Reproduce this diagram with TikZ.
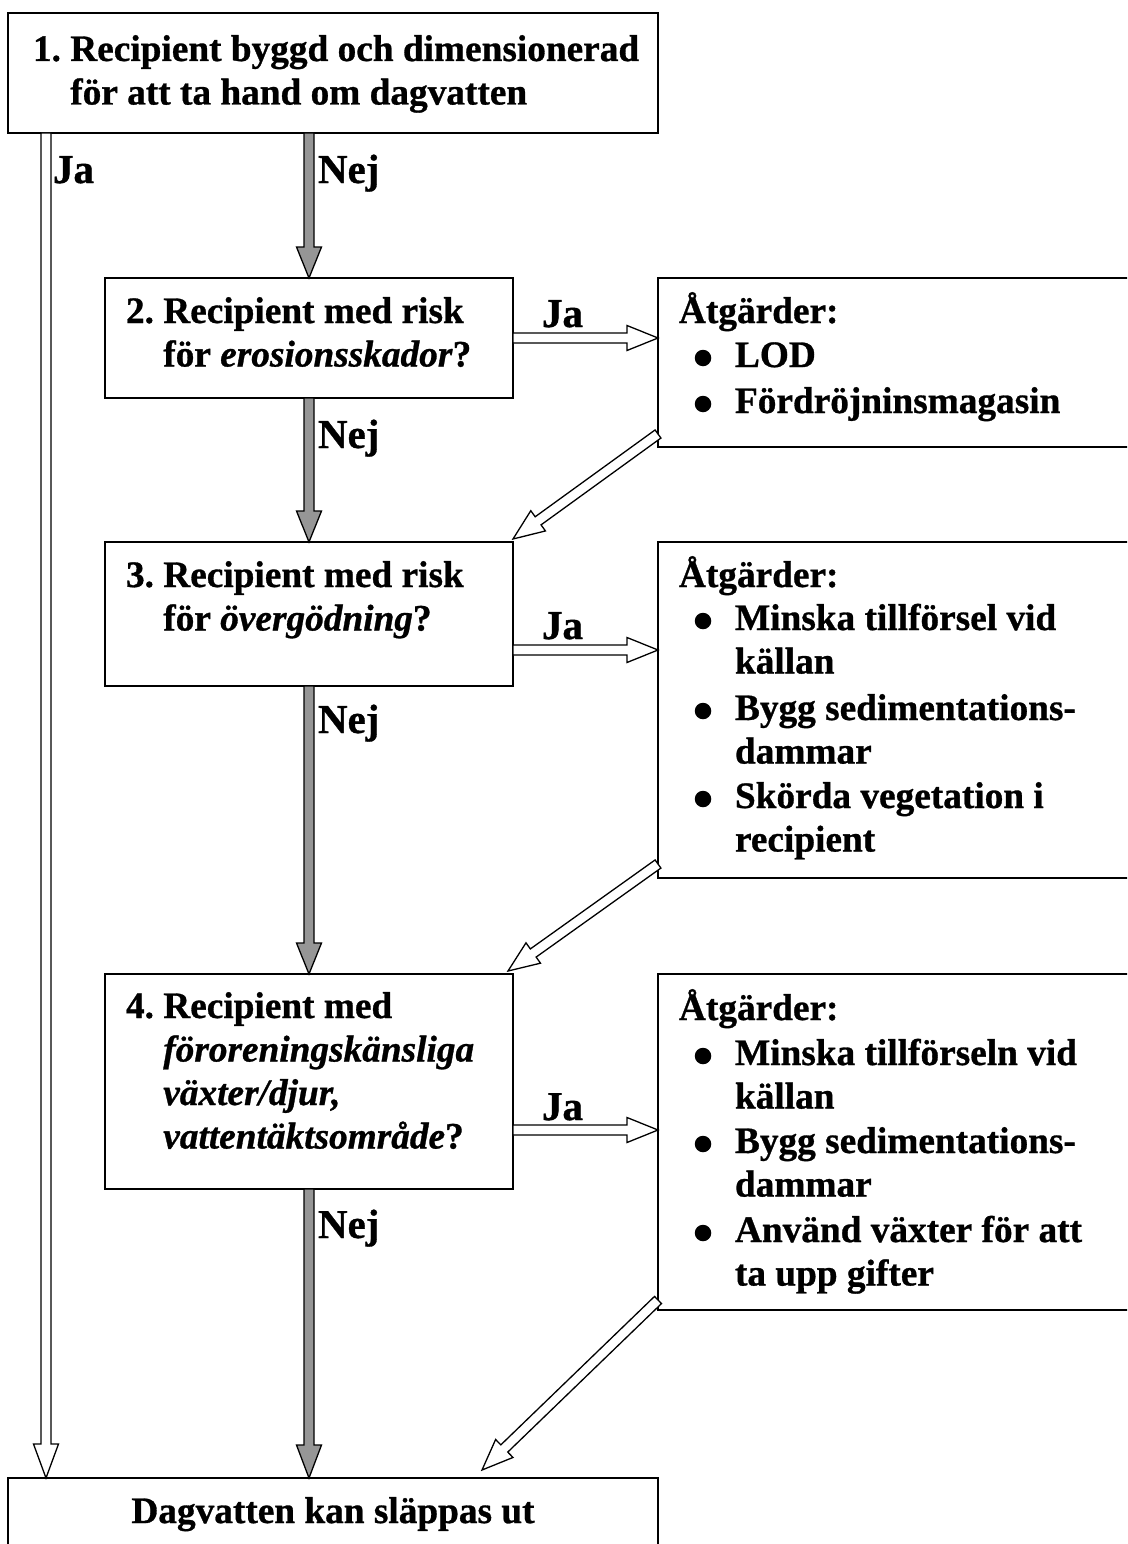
\documentclass[tikz,border=0pt]{standalone}
\usepackage{fontspec}
\setmainfont{Liberation Serif}[BoldFeatures={FakeBold=0.8},BoldItalicFeatures={FakeBold=0.8}]
\usetikzlibrary{calc}
\definecolor{arrgray}{RGB}{150,150,150}
\newcommand{\bigfont}{\fontsize{37.3pt}{43.5pt}\selectfont\bfseries}
\newcommand{\labfont}{\fontsize{41pt}{45pt}\selectfont\bfseries}
% #1 style, #2 start coordinate, #3 end coordinate, #4 head length
\newcommand{\blockarrow}[4]{%
  \coordinate (#2-#3-n) at ($(#3)!#4!(#2)$);
  \draw[#1] ($(#2)!5pt!90:(#3)$) -- ($(#2-#3-n)!5pt!90:(#3)$) -- ($(#2-#3-n)!12.5pt!90:(#3)$) -- (#3)
    -- ($(#2-#3-n)!12.5pt!-90:(#3)$) -- ($(#2-#3-n)!5pt!-90:(#3)$) -- ($(#2)!5pt!-90:(#3)$) -- cycle;
}
\begin{document}
\begin{tikzpicture}[x=1pt,y=-1pt,
  box/.style={draw, line width=1.8pt, inner sep=0pt, outer sep=0pt, anchor=north west},
  txt/.style={anchor=base west, inner sep=0pt, outer sep=0pt, font=\bigfont},
  lab/.style={anchor=base west, inner sep=0pt, outer sep=0pt, font=\labfont},
  bul/.style={circle, fill=black, inner sep=0pt, outer sep=0pt, minimum size=16.5pt},
  grayarrow/.style={draw=black, fill=arrgray, line width=1.3pt, line join=miter},
  hollowarrow/.style={draw=black, fill=white, line width=1.3pt, line join=miter}]
\useasboundingbox (0,0) rectangle (1127,1544);
\clip (0,0) rectangle (1127,1544);

% boxes
\node[box, minimum width=650pt, minimum height=120pt] (b1) at (8,13) {};
\node[box, minimum width=408pt, minimum height=120pt] (b2) at (105,278) {};
\node[box, minimum width=408pt, minimum height=144pt] (b3) at (105,542) {};
\node[box, minimum width=408pt, minimum height=215pt] (b4) at (105,974) {};
\node[box, minimum width=500pt, minimum height=169pt] (a1) at (658,278) {};
\node[box, minimum width=500pt, minimum height=336pt] (a2) at (658,542) {};
\node[box, minimum width=500pt, minimum height=336pt] (a3) at (658,974) {};
\node[box, minimum width=650pt, minimum height=100pt] (bot) at (8,1478) {};

% texts in the left boxes
\node[txt] (t1) at (33,61) {\parbox[t]{640pt}{1.~Recipient byggd och dimensionerad\\\phantom{1.~}för att ta hand om dagvatten}};
\node[txt] (t2) at (126,323) {\parbox[t]{400pt}{2.~Recipient med risk\\\phantom{2.~}för \textit{erosionsskador}?}};
\node[txt] (t3) at (126,587) {\parbox[t]{400pt}{3.~Recipient med risk\\\phantom{3.~}för \textit{övergödning}?}};
\node[txt] (t4) at (126,1018) {\parbox[t]{400pt}{4.~Recipient med\\\phantom{4.~}\textit{föroreningskänsliga}\\\phantom{4.~}\textit{växter/djur,}\\\phantom{4.~}\textit{vattentäktsområde}?}};
\node[anchor=base, inner sep=0pt, font=\bigfont] (tb) at (333,1523) {Dagvatten kan släppas ut};

% action box 1
\node[txt] (a1h) at (679,323) {Åtgärder:};
\node[bul] (a1b1) at (703,358) {};
\node[txt] (a1i1) at (735,367) {LOD};
\node[bul] (a1b2) at (703,404) {};
\node[txt] (a1i2) at (735,413) {Fördröjninsmagasin};

% action box 2
\node[txt] (a2h) at (679,587) {Åtgärder:};
\node[bul] (a2b1) at (703,621) {};
\node[txt] (a2i1) at (735,630) {\parbox[t]{380pt}{Minska tillförsel vid\\källan}};
\node[bul] (a2b2) at (703,711) {};
\node[txt] (a2i2) at (735,720) {\parbox[t]{380pt}{Bygg sedimentations-\\dammar}};
\node[bul] (a2b3) at (703,799) {};
\node[txt] (a2i3) at (735,808) {\parbox[t]{380pt}{Skörda vegetation i\\recipient}};

% action box 3
\node[txt] (a3h) at (679,1020) {Åtgärder:};
\node[bul] (a3b1) at (703,1056) {};
\node[txt] (a3i1) at (735,1065) {\parbox[t]{380pt}{Minska tillförseln vid\\källan}};
\node[bul] (a3b2) at (703,1144) {};
\node[txt] (a3i2) at (735,1153) {\parbox[t]{380pt}{Bygg sedimentations-\\dammar}};
\node[bul] (a3b3) at (703,1233) {};
\node[txt] (a3i3) at (735,1242) {\parbox[t]{380pt}{Använd växter för att\\ta upp gifter}};

% connector end points
\coordinate (g1s) at (b1.south -| b2.north);
\coordinate (g1e) at (b2.north);
\coordinate (g2s) at (b2.south);
\coordinate (g2e) at (b3.north);
\coordinate (g3s) at (b3.south);
\coordinate (g3e) at (b4.north);
\coordinate (g4s) at (b4.south);
\coordinate (g4e) at (b4.south |- bot.north);
\coordinate (jas) at ([xshift=38pt]b1.south west);
\coordinate (jae) at (jas |- bot.north);
\coordinate (h1s) at (b2.east);
\coordinate (h1e) at (a1.west |- h1s);
\coordinate (h2s) at (b3.east |- 0,650);
\coordinate (h2e) at (a2.west |- h2s);
\coordinate (h3s) at (b4.east |- 0,1130);
\coordinate (h3e) at (a3.west |- h3s);
\coordinate (d1s) at (a1.west |- 0,434);
\coordinate (d1e) at ($(b3.north east)+(0,-3)$);
\coordinate (d2s) at (a2.west |- 0,864);
\coordinate (d2e) at ($(b4.north east)+(-5,-3)$);
\coordinate (d3s) at (a3.west |- 0,1300);
\coordinate (d3e) at ($(bot.north)+(149,-8)$);

% connectors
\blockarrow{grayarrow}{g1s}{g1e}{31pt}
\blockarrow{grayarrow}{g2s}{g2e}{31pt}
\blockarrow{grayarrow}{g3s}{g3e}{31pt}
\blockarrow{grayarrow}{g4s}{g4e}{33pt}
\blockarrow{hollowarrow}{jas}{jae}{34pt}
\blockarrow{hollowarrow}{h1s}{h1e}{31pt}
\blockarrow{hollowarrow}{h2s}{h2e}{31pt}
\blockarrow{hollowarrow}{h3s}{h3e}{31pt}
\blockarrow{hollowarrow}{d1s}{d1e}{31pt}
\blockarrow{hollowarrow}{d2s}{d2e}{31pt}
\blockarrow{hollowarrow}{d3s}{d3e}{31pt}

% labels
\node[lab] (lja0) at (53,183) {Ja};
\node[lab] (ln1) at (318,183) {Nej};
\node[lab] (ln2) at (318,448) {Nej};
\node[lab] (ln3) at (318,733) {Nej};
\node[lab] (ln4) at (318,1238) {Nej};
\node[lab] (lja1) at (542,327) {Ja};
\node[lab] (lja2) at (542,639) {Ja};
\node[lab] (lja3) at (542,1120) {Ja};
\end{tikzpicture}
\end{document}
